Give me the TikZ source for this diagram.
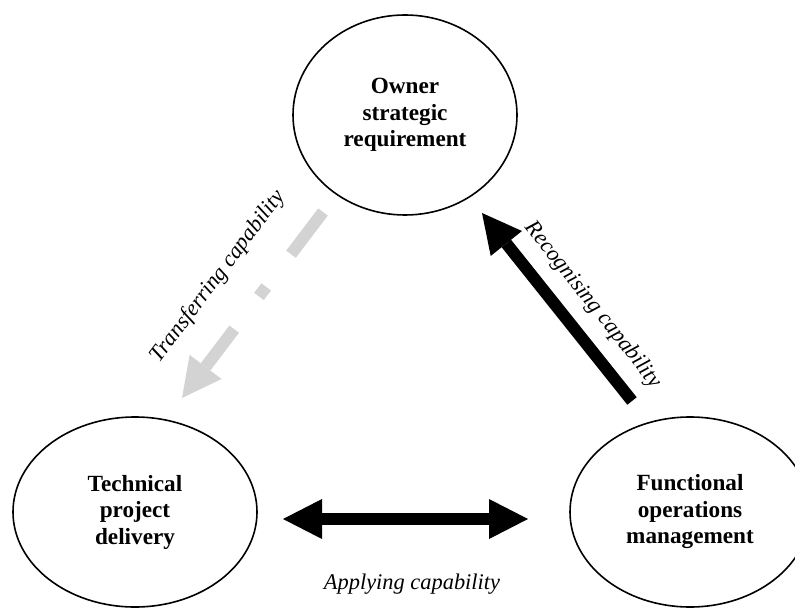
\documentclass[tikz,border=0pt]{standalone}
\usepackage{fontspec}
\setmainfont{Liberation Serif}
\usepackage{tikz}
\usetikzlibrary{arrows.meta, shapes.geometric}
\definecolor{flowgrey}{HTML}{D3D3D3}

\begin{document}
\begin{tikzpicture}[x=0.5pt, y=-0.5pt,
  >={Triangle[length=19.5pt, width=20pt, line width=0pt]},
  role/.style={ellipse, draw, line width=0.8pt, inner sep=0pt, align=center, font=\fontsize{11.6}{13.25}\selectfont\bfseries},
  flow/.style={->, line width=6pt},
  lbl/.style={inner sep=0pt, font=\fontsize{11.2}{13.25}\selectfont\itshape}]
  \useasboundingbox (0,0) rectangle (795,608);
  \clip (0,0) rectangle (795,608);
  \node[role, minimum width=112pt, minimum height=100pt] (O) at (405,115) {Owner\\strategic\\requirement};
  \node[role, minimum width=122pt, minimum height=95pt] (T) at (135,512) {Technical\\project\\delivery};
  \node[role, minimum width=120pt, minimum height=95pt] (F) at (690,512) {Functional\\operations\\management};
  % arrow ends
  \coordinate (OT) at (323,212);
  \coordinate (TO) at (182,398);
  \coordinate (FO) at (632,401);
  \coordinate (OF) at (482,213);
  \coordinate (TF) at (283,519);
  \coordinate (FT) at (528,519);
  \draw[flow, flowgrey, dash pattern=on 26.5pt off 20.5pt on 6pt off 20.5pt] (OT) -- (TO);
  \draw[flow] (FO) -- (OF);
  \draw[flow, <->] (TF) -- (FT);
  \node[lbl, rotate=53] (tl) at (218,277) {Transferring capability};
  \node[lbl, rotate=-51.5] (rl) at (593,305) {Recognising capability};
  \node[lbl] (al) at (412,584) {Applying capability};
\end{tikzpicture}
\end{document}
